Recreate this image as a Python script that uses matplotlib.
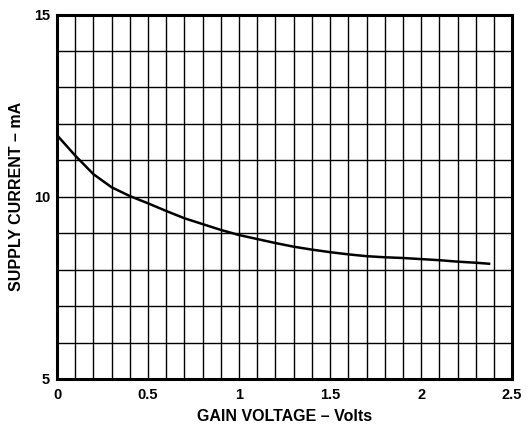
import matplotlib
matplotlib.use("Agg")
import matplotlib.pyplot as plt
import numpy as np

gain_voltage = [0.0, 0.1, 0.2, 0.3, 0.4, 0.5, 0.6, 0.7, 0.8, 0.9, 1.0, 1.1, 1.2,
                1.3, 1.4, 1.5, 1.6, 1.7, 1.8, 1.9, 2.0, 2.1, 2.2, 2.3, 2.38]
supply_current = [11.69, 11.13, 10.62, 10.26, 10.02, 9.82, 9.61, 9.41, 9.25, 9.09,
                  8.95, 8.84, 8.73, 8.63, 8.55, 8.48, 8.42, 8.37, 8.34, 8.32,
                  8.29, 8.26, 8.22, 8.19, 8.16]
x_ticks = [0, 0.5, 1, 1.5, 2, 2.5]
x_tick_labels = ["0", "0.5", "1", "1.5", "2", "2.5"]
y_ticks = [5, 10, 15]
y_tick_labels = ["5", "10", "15"]

plt.rcParams['font.family'] = ['Liberation Sans', 'DejaVu Sans']
fig = plt.figure(figsize=(5.28, 4.29), dpi=100)
ax = fig.add_axes([0.108, 0.1166, 0.862, 0.8494])

ax.set_xlim(0, 2.5)
ax.set_ylim(5, 15)

for xv in np.arange(0.1, 2.5, 0.1):
    ax.axvline(xv, color='black', lw=1.0, zorder=1)
for yv in range(6, 15):
    ax.axhline(yv, color='black', lw=1.0, zorder=1)

ax.plot(gain_voltage, supply_current, color='black', lw=1.8, zorder=3,
        solid_capstyle='butt', solid_joinstyle='round')

ax.set_xticks(x_ticks)
ax.set_xticklabels(x_tick_labels, fontsize=10.5, fontweight='bold')
ax.set_yticks(y_ticks)
ax.set_yticklabels(y_tick_labels, fontsize=10.5, fontweight='bold')
ax.tick_params(axis='x', length=0, pad=6.5)
ax.tick_params(axis='y', length=0, pad=5)
for s in ax.spines.values():
    s.set_linewidth(2.2)
    s.set_zorder(4)

ax.set_xlabel("GAIN VOLTAGE – Volts", fontsize=11.5, fontweight='bold', labelpad=5)
ax.set_ylabel("SUPPLY CURRENT – mA", fontsize=11.5, fontweight='bold', labelpad=7)

fig.savefig("out.png", dpi=100)
